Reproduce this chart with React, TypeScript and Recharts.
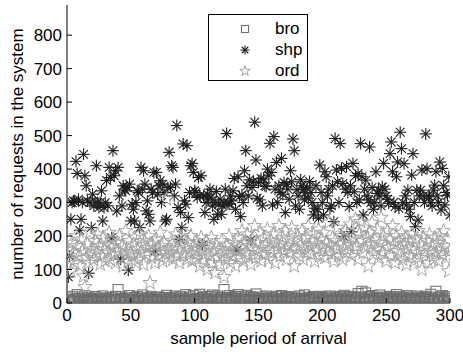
import React from 'react';
import { ScatterChart, Scatter, XAxis, YAxis } from 'recharts';

// sample period index for every series: 1..300
const periods: number[] = Array.from({ length: 300 }, (_, i) => i + 1);

const broValues: number[] = [
  8, 15, 3, 20, 10, 5, 12, 25, 6, 14,
  2, 18, 9, 22, 4, 11, 16, 7, 13, 3,
  10, 19, 6, 12, 2, 15, 8, 21, 5, 11,
  14, 4, 9, 17, 3, 12, 7, 20, 10, 40,
  6, 13, 18, 5, 11, 2, 15, 9, 22, 4,
  12, 7, 16, 3, 19, 10, 6, 14, 24, 8,
  5, 11, 17, 2, 13, 20, 7, 10, 4, 15,
  9, 18, 6, 12, 3, 16, 11, 23, 5, 14,
  8, 2, 17, 10, 21, 6, 13, 4, 19, 9,
  15, 7, 25, 11, 3, 18, 12, 6, 22, 10,
  5, 14, 9, 26, 2, 16, 11, 20, 7, 13,
  4, 19, 10, 24, 6, 15, 8, 21, 3, 12,
  17, 9, 40, 5, 14, 11, 22, 7, 16, 2,
  13, 20, 8, 25, 4, 11, 18, 6, 15, 10,
  23, 3, 12, 19, 7, 16, 9, 27, 5, 14,
  11, 2, 18, 8, 13, 21, 6, 15, 10, 4,
  17, 12, 7, 20, 3, 14, 9, 22, 11, 5,
  16, 8, 19, 13, 2, 18, 10, 6, 15, 12,
  4, 21, 9, 14, 7, 24, 11, 3, 17, 10,
  6, 13, 19, 8, 15, 2, 12, 20, 5, 16,
  11, 7, 18, 14, 3, 21, 9, 12, 6, 17,
  10, 15, 4, 19, 8, 13, 23, 5, 11, 16,
  7, 20, 12, 3, 17, 9, 14, 28, 6, 18,
  35, 10, 15, 30, 4, 12, 19, 8, 22, 11,
  5, 16, 13, 9, 24, 2, 14, 18, 7, 11,
  15, 6, 20, 12, 3, 17, 10, 25, 8, 13,
  19, 4, 11, 16, 7, 22, 9, 14, 2, 18,
  10, 13, 6, 21, 15, 8, 12, 3, 17, 11,
  20, 5, 14, 9, 26, 12, 7, 18, 35, 10,
  4, 16, 11, 22, 6, 13, 19, 8, 15, 3,
];

const shpValues: number[] = [
  78, 140, 250, 300, 305, 303, 423, 387, 310, 217,
  250, 300, 444, 380, 350, 305, 89, 300, 225, 325,
  290, 300, 410, 300, 285, 300, 335, 245, 285, 300,
  366, 290, 405, 375, 195, 455, 380, 395, 275, 405,
  320, 131, 290, 350, 340, 335, 345, 98, 355, 245,
  295, 280, 245, 300, 335, 330, 225, 405, 340, 395,
  355, 275, 305, 265, 245, 340, 330, 390, 155, 390,
  325, 350, 365, 300, 355, 330, 245, 250, 345, 450,
  345, 410, 405, 320, 355, 530, 285, 190, 270, 225,
  475, 305, 295, 470, 255, 330, 410, 417, 390, 335,
  330, 315, 375, 320, 380, 173, 320, 270, 300, 325,
  310, 340, 316, 290, 250, 300, 333, 265, 295, 310,
  265, 290, 300, 340, 506, 298, 295, 320, 305, 335,
  372, 280, 158, 377, 318, 258, 323, 300, 395, 455,
  350, 320, 368, 188, 345, 362, 540, 427, 313, 360,
  308, 372, 290, 370, 350, 348, 400, 380, 477, 390,
  293, 497, 340, 420, 300, 350, 330, 432, 325, 360,
  270, 355, 340, 310, 395, 362, 490, 455, 290, 338,
  320, 280, 368, 350, 340, 308, 330, 345, 313, 363,
  330, 300, 263, 283, 350, 280, 253, 412, 330, 300,
  263, 392, 377, 320, 340, 283, 290, 350, 243, 491,
  397, 362, 300, 476, 402, 357, 198, 340, 407, 330,
  288, 350, 213, 417, 332, 380, 300, 387, 308, 476,
  377, 263, 340, 367, 320, 308, 466, 300, 345, 280,
  300, 392, 327, 337, 320, 290, 347, 417, 340, 320,
  310, 298, 446, 481, 392, 300, 288, 377, 421, 283,
  510, 461, 300, 416, 320, 293, 337, 280, 258, 382,
  446, 300, 228, 337, 248, 320, 337, 397, 320, 300,
  505, 401, 320, 317, 300, 290, 337, 352, 392, 320,
  300, 421, 278, 402, 350, 293, 330, 322, 377, 263,
];

const ordValues: number[] = [
  160, 130, 95, 180, 150, 120, 200, 170, 140, 110,
  190, 155, 80, 48, 135, 175, 120, 210, 160, 145,
  130, 185, 150, 205, 170, 115, 140, 195, 160, 125,
  175, 150, 210, 130, 165, 190, 145, 120, 180, 155,
  200, 135, 170, 110, 160, 215, 145, 125, 185, 150,
  140, 175, 195, 120, 160, 130, 205, 150, 170, 115,
  185, 145, 165, 200, 60, 135, 175, 155, 120, 190,
  160, 140, 210, 170, 125, 180, 150, 310, 135, 165,
  150, 185, 130, 170, 205, 140, 160, 120, 195, 175,
  145, 210, 165, 130, 180, 150, 200, 125, 170, 155,
  135, 180, 150, 110, 195, 160, 125, 145, 185, 100,
  170, 140, 195, 120, 155, 90, 175, 135, 160, 115,
  185, 150, 78, 130, 170, 145, 200, 120, 160, 140,
  180, 110, 155, 195, 135, 165, 215, 125, 175, 150,
  205, 140, 170, 115, 190, 160, 230, 135, 180, 150,
  210, 125, 165, 195, 145, 175, 220, 130, 160, 185,
  150, 205, 120, 180, 160, 230, 140, 175, 195, 155,
  215, 130, 170, 190, 150, 225, 165, 110, 185, 160,
  200, 140, 175, 215, 130, 165, 195, 150, 230, 170,
  145, 185, 205, 125, 175, 160, 220, 140, 190, 165,
  210, 135, 180, 155, 240, 170, 145, 195, 125, 185,
  160, 225, 140, 175, 200, 130, 165, 215, 150, 190,
  175, 235, 140, 195, 160, 250, 170, 130, 205, 242,
  185, 150, 225, 165, 195, 110, 210, 175, 240, 145,
  190, 160, 220, 135, 180, 255, 150, 200, 170, 125,
  215, 165, 190, 140, 230, 175, 120, 200, 155, 185,
  145, 210, 130, 175, 195, 115, 165, 185, 140, 205,
  160, 125, 190, 150, 215, 135, 175, 100, 195, 160,
  140, 185, 120, 205, 155, 170, 130, 195, 150, 180,
  125, 200, 160, 145, 215, 170, 135, 190, 95, 155,
];

const xTicks = [0, 50, 100, 150, 200, 250, 300];
const yTicks = [0, 100, 200, 300, 400, 500, 600, 700, 800];

const toPoints = (vals: number[]) => periods.map((p, i) => ({ x: p, y: vals[i] }));
const broData = toPoints(broValues);
const shpData = toPoints(shpValues);
const ordData = toPoints(ordValues);

const FONT = 'Liberation Sans, Arial, Helvetica, sans-serif';
const BRO_C = '#6a6a6a';
const SHP_C = '#1e1e1e';
const ORD_C = '#a3a3a3';

const starPoints = (cx: number, cy: number, r: number) => {
  const pts: string[] = [];
  for (let k = 0; k < 10; k++) {
    const rad = k % 2 === 0 ? r : r * 0.4;
    const a = -Math.PI / 2 + (k * Math.PI) / 5;
    pts.push(`${cx + rad * Math.cos(a)},${cy + rad * Math.sin(a)}`);
  }
  return pts.join(' ');
};

const Square = ({ cx, cy, s = 5 }: any) => (
  <rect x={cx - s} y={cy - s} width={s * 2} height={s * 2} fill="none" stroke={BRO_C} strokeWidth={1} />
);

const Asterisk = ({ cx, cy, r = 6 }: any) => {
  const d = r * 0.72;
  return (
    <g stroke={SHP_C} strokeWidth={1.1}>
      <line x1={cx - r} y1={cy} x2={cx + r} y2={cy} />
      <line x1={cx} y1={cy - r} x2={cx} y2={cy + r} />
      <line x1={cx - d} y1={cy - d} x2={cx + d} y2={cy + d} />
      <line x1={cx - d} y1={cy + d} x2={cx + d} y2={cy - d} />
    </g>
  );
};

const Star = ({ cx, cy, r = 7.5 }: any) => (
  <polygon points={starPoints(cx, cy, r)} fill="none" stroke={ORD_C} strokeWidth={1} />
);

const BottomTick = ({ x, y, payload }: any) => (
  <g>
    <line x1={x} y1={y} x2={x} y2={y - 5} stroke="#000" />
    <text x={x} y={y + 18} textAnchor="middle" fontSize={17} fill="#000" fontFamily={FONT}>{payload.value}</text>
  </g>
);
const TopTick = ({ x, y }: any) => <line x1={x} y1={y} x2={x} y2={y + 5} stroke="#000" />;
const LeftTick = ({ x, y, payload }: any) => (
  <g>
    <line x1={x} y1={y} x2={x + 5} y2={y} stroke="#000" />
    <text x={x - 5} y={y} dy="0.36em" textAnchor="end" fontSize={17} fill="#000" fontFamily={FONT}>{payload.value}</text>
  </g>
);
const RightTick = ({ x, y }: any) => <line x1={x} y1={y} x2={x - 5} y2={y} stroke="#000" />;

const legendRows = [
  { name: 'bro', icon: <Square cx={7} cy={7} s={3.5} /> },
  { name: 'shp', icon: <Asterisk cx={7} cy={7} r={4.5} /> },
  { name: 'ord', icon: <Star cx={7} cy={7} r={5.5} /> },
];

export default function App() {
  return (
    <div style={{ position: 'absolute', left: 0, top: 0, width: 463, height: 354, background: '#fff', fontFamily: FONT }}>
      <ScatterChart width={463} height={354} margin={{ top: 5, right: 13, bottom: 0, left: 0 }}>
        <XAxis xAxisId="b" dataKey="x" type="number" domain={[0, 300]} ticks={xTicks} allowDataOverflow
          height={51} tickSize={0} tickMargin={0} tickLine={false} axisLine={{ stroke: '#000' }} tick={<BottomTick />}
          label={{ value: 'sample period of arrival', position: 'insideBottom', offset: 10, fontSize: 17, fill: '#000' }} />
        <XAxis xAxisId="t" orientation="top" dataKey="x" type="number" domain={[0, 300]} ticks={xTicks} allowDataOverflow
          height={0} tickSize={0} tickMargin={0} tickLine={false} axisLine={{ stroke: '#000' }} tick={<TopTick />} />
        <YAxis yAxisId="l" dataKey="y" type="number" domain={[0, 890]} ticks={yTicks} allowDataOverflow
          width={67} tickSize={0} tickMargin={0} tickLine={false} axisLine={{ stroke: '#000' }} tick={<LeftTick />}
          label={{
            content: () => (
              <text x={17} y={154} transform="rotate(-90 17 154)" textAnchor="middle" dominantBaseline="central"
                fontSize={17} fill="#000" fontFamily={FONT}>number of requests in the system</text>
            ),
          }} />
        <YAxis yAxisId="r" orientation="right" dataKey="y" type="number" domain={[0, 890]} ticks={yTicks} allowDataOverflow
          width={0} tickSize={0} tickMargin={0} tickLine={false} axisLine={{ stroke: '#000' }} tick={<RightTick />} />
        <Scatter name="bro" data={broData} xAxisId="b" yAxisId="l" shape={<Square />} isAnimationActive={false} />
        <Scatter name="shp" data={shpData} xAxisId="b" yAxisId="l" shape={<Asterisk />} isAnimationActive={false} />
        <Scatter name="ord" data={ordData} xAxisId="b" yAxisId="l" shape={<Star />} isAnimationActive={false} />
      </ScatterChart>
      <div style={{ position: 'absolute', left: 208, top: 14, width: 98, height: 65, border: '1px solid #000', background: '#fff' }}>
        {legendRows.map((row, i) => (
          <div key={row.name} style={{ position: 'absolute', left: 0, top: 4 + i * 21, height: 20, width: 98 }}>
            <svg width={14} height={14} style={{ position: 'absolute', left: 29, top: 3 }}>{row.icon}</svg>
            <span style={{ position: 'absolute', left: 66, top: 0, fontSize: 17, lineHeight: '20px', color: '#000' }}>{row.name}</span>
          </div>
        ))}
      </div>
    </div>
  );
}
